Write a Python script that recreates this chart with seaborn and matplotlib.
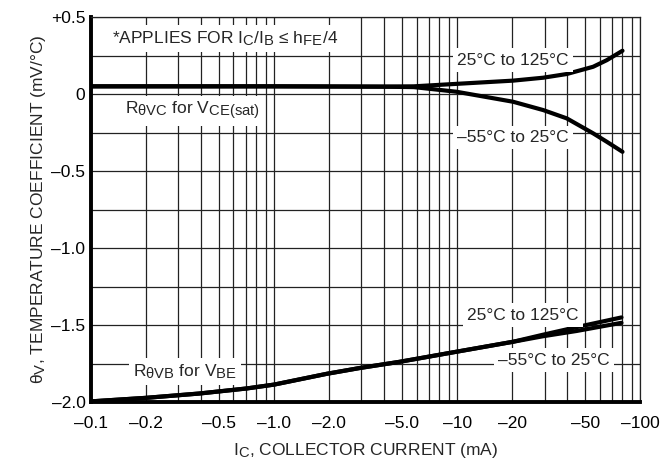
import numpy as np
import pandas as pd
import matplotlib
matplotlib.use('Agg')
import matplotlib.pyplot as plt
import matplotlib._mathtext as mathtext_internals
import seaborn as sns

# ---- data ----
vc_x = [0.1, 1.0, 3.8, 5.8, 9.9, 20.2, 29.5, 39.7, 55.3, 65.7, 80]
vc_hot = [0.05, 0.05, 0.048, 0.05, 0.066, 0.087, 0.106, 0.13, 0.177, 0.22, 0.281]        # 25C to 125C
vc_cold = [0.05, 0.05, 0.048, 0.045, 0.015, -0.05, -0.104, -0.158, -0.255, -0.31, -0.375]  # -55C to 25C

vb_x = [0.1, 0.2, 0.39, 0.71, 1.0, 1.94, 2.95, 4.86, 9.15, 20.2, 29.5, 44.9, 79]
vb_hot = [-1.995, -1.972, -1.944, -1.911, -1.886, -1.816, -1.778, -1.738, -1.68, -1.608, -1.562, -1.513, -1.45]
vb_cold = [-1.995, -1.972, -1.944, -1.911, -1.886, -1.816, -1.778, -1.738, -1.68, -1.608, -1.572, -1.538, -1.485]

xticks = [0.1, 0.2, 0.5, 1, 2, 5, 10, 20, 50, 100]
xticklabels = ['–0.1', '–0.2', '–0.5', '–1.0', '–2.0', '–5.0', '–10', '–20', '–50', '–100']
yticks = [0.5, 0, -0.5, -1.0, -1.5, -2.0]
yticklabels = ['+0.5', '0', '–0.5', '–1.0', '–1.5', '–2.0']

curves = pd.concat([
    pd.DataFrame({'ic': vc_x, 'theta': vc_hot, 'curve': 'vc_hot'}),
    pd.DataFrame({'ic': vc_x, 'theta': vc_cold, 'curve': 'vc_cold'}),
    pd.DataFrame({'ic': vb_x, 'theta': vb_hot, 'curve': 'vb_hot'}),
    pd.DataFrame({'ic': vb_x, 'theta': vb_cold, 'curve': 'vb_cold'}),
])

sns.set_style('white')
fam = ['Liberation Sans', 'DejaVu Sans']
plt.rcParams['font.family'] = fam
plt.rcParams['mathtext.fontset'] = 'custom'
plt.rcParams['mathtext.rm'] = 'Liberation Sans'
plt.rcParams['mathtext.it'] = 'Liberation Sans'
plt.rcParams['mathtext.default'] = 'rm'
# datasheet style: subscripts nearly full size
mathtext_internals.SHRINK_FACTOR = 0.85

fig, ax = plt.subplots(figsize=(6.69, 4.66), dpi=100)
fig.subplots_adjust(left=0.136, right=0.957, top=0.9635, bottom=0.137)

sns.lineplot(data=curves, x='ic', y='theta', hue='curve', units='curve', estimator=None,
             palette=['black'] * 4, linewidth=3.0, legend=False, ax=ax, zorder=5)

ax.set_xscale('log')
ax.set_xlim(0.1, 100)
ax.set_ylim(-2.0, 0.5)
ax.set_xticks(xticks)
ax.set_xticklabels(xticklabels, fontsize=12.5)
ax.set_xticks([m * 10.0 ** e for e in (-1, 0, 1) for m in range(2, 10)], minor=True)
ax.set_yticks(yticks)
ax.set_yticklabels(yticklabels, fontsize=12.5)
ax.set_yticks([0.25, -0.25, -0.75, -1.25, -1.75], minor=True)
ax.xaxis.set_minor_formatter(matplotlib.ticker.NullFormatter())
ax.tick_params(which='both', length=0, colors='black')
ax.tick_params(axis='x', pad=10)
ax.tick_params(axis='y', pad=4)
ax.grid(which='both', color='#222222', linewidth=0.9)

for side in ['top', 'right']:
    ax.spines[side].set_linewidth(0.9)
    ax.spines[side].set_color('#222222')
for side in ['left', 'bottom']:
    ax.spines[side].set_linewidth(2.8)
    ax.spines[side].set_color('black')

ax.set_xlabel(r'$\mathrm{I_C}$, COLLECTOR CURRENT (mA)', fontsize=12.5, labelpad=7)
ax.set_ylabel(r'$\mathrm{θ_V}$, TEMPERATURE COEFFICIENT (mV/°C)', fontsize=12.5, labelpad=2)

box = dict(facecolor='white', edgecolor='none', pad=3)
ax.text(0.130, 0.36, r'*APPLIES FOR $\mathrm{I_C/I_B}$ ≤ $\mathrm{h_{FE}}$/4', fontsize=12.5,
        va='center', ha='left', bbox=box, zorder=6)
ax.text(0.153, -0.11, r'$\mathrm{R_{θVC}}$ for $\mathrm{V_{CE(sat)}}$', fontsize=12.5,
        va='center', ha='left', bbox=box, zorder=6)
ax.text(0.170, -1.80, r'$\mathrm{R_{θVB}}$ for $\mathrm{V_{BE}}$', fontsize=12.5,
        va='center', ha='left', bbox=box, zorder=6)
ax.text(10.0, 0.22, '25°C to 125°C', fontsize=12.5, va='center', ha='left', bbox=box, zorder=6)
ax.text(10.0, -0.28, '–55°C to 25°C', fontsize=12.5, va='center', ha='left', bbox=box, zorder=6)
ax.text(11.3, -1.435, '25°C to 125°C', fontsize=12.5, va='center', ha='left', bbox=box, zorder=6)
ax.text(16.7, -1.727, '–55°C to 25°C', fontsize=12.5, va='center', ha='left', bbox=box, zorder=6)

fig.savefig('out.png', dpi=100)
